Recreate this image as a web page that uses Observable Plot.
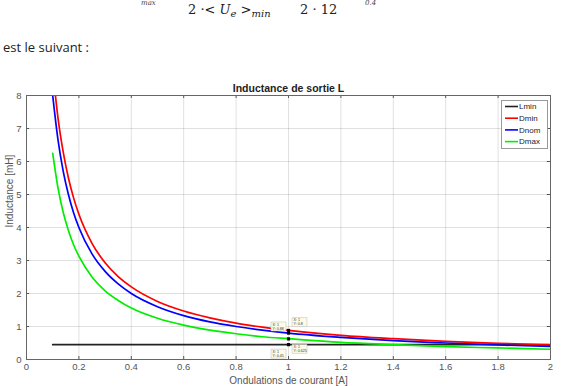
<!DOCTYPE html>
<html><head><meta charset="utf-8">
<script src="https://cdn.jsdelivr.net/npm/d3@7"></script>
<script src="https://cdn.jsdelivr.net/npm/@observablehq/plot@0.6"></script>
<style>
body{margin:0;background:#fff;width:562px;height:386px;overflow:hidden;position:relative;font-family:"Liberation Sans",Arial,sans-serif}
#chart{position:absolute;left:0;top:0}
.math{position:absolute;font-family:"DejaVu Serif",serif;font-size:13px;line-height:1;color:#222;white-space:nowrap}
.math i{font-style:italic}
.math sub{font-size:10px;vertical-align:-3px}
.cut{position:absolute;font-family:"DejaVu Serif",serif;font-style:italic;font-size:7px;line-height:1;color:#444;top:0}
#intro{position:absolute;left:3px;top:38px;font-family:"Open Sans","Liberation Sans",sans-serif;font-size:13px;color:#222}
#legend{position:absolute;left:501px;top:100px;width:45px;height:47px;border:1px solid #999;background:#fff}
</style></head><body>
<div class="cut" style="left:141px">max</div>
<div class="math" style="left:188px;top:3px">2 ·&lt; <i>U</i><sub><i>e</i></sub> &gt;<sub><i>min</i></sub></div>
<div class="math" style="left:300px;top:3px">2 · 12</div>
<div class="cut" style="left:365px">0.4</div>
<div id="intro">est le suivant :</div>
<div id="chart"></div>
<div id="legend"></div>
<script>
// Data
const xs    = [0.1, 0.12, 0.14, 0.16, 0.18, 0.2, 0.25, 0.3, 0.35, 0.4, 0.5, 0.6, 0.7, 0.8, 0.9, 1.0, 1.2, 1.4, 1.6, 1.8, 2.0];
const lDmin = [8.8, 7.33, 6.29, 5.5, 4.89, 4.4, 3.52, 2.93, 2.51, 2.2, 1.76, 1.47, 1.26, 1.1, 0.98, 0.88, 0.73, 0.63, 0.55, 0.49, 0.44];
const lDnom = [8.0, 6.67, 5.71, 5.0, 4.44, 4.0, 3.2, 2.67, 2.29, 2.0, 1.6, 1.33, 1.14, 1.0, 0.89, 0.8, 0.67, 0.57, 0.5, 0.44, 0.4];
const lDmax = [6.25, 5.21, 4.46, 3.91, 3.47, 3.13, 2.5, 2.08, 1.79, 1.56, 1.25, 1.04, 0.89, 0.78, 0.69, 0.63, 0.52, 0.45, 0.39, 0.35, 0.31];
const lminX = [0.1, 2.0];
const lminY = [0.45, 0.45];
const seriesNames  = ["Lmin", "Dmin", "Dnom", "Dmax"];
const seriesColors = ["#222222", "#ff0000", "#0000ff", "#00ee00"];
const xTicks = [0, 0.2, 0.4, 0.6, 0.8, 1, 1.2, 1.4, 1.6, 1.8, 2];
const yTicks = [0, 1, 2, 3, 4, 5, 6, 7, 8];
const tipSeries = ["Dmin", "Dnom", "Dmax", "Lmin"];
const tipX = [1, 1, 1, 1];
const tipY = [0.88, 0.8, 0.625, 0.45];
const tipLabels = ["0.88", "0.8", "0.625", "0.45"];
const titleText = "Inductance de sortie L";
const xLabel = "Ondulations de courant [A]";
const yLabel = "Inductance [mH]";

const rows = [];
lminX.forEach((x, i) => rows.push({series: "Lmin", x, y: lminY[i]}));
xs.forEach((x, i) => rows.push({series: "Dmin", x, y: lDmin[i]}));
xs.forEach((x, i) => rows.push({series: "Dnom", x, y: lDnom[i]}));
xs.forEach((x, i) => rows.push({series: "Dmax", x, y: lDmax[i]}));
const tips = tipX.map((x, i) => ({series: tipSeries[i], x, y: tipY[i], label: `X: 1\nY: ${tipLabels[i]}`}));

const tipOffsets = [[-10, -4], [11, -11], [11, 10], [-10, 9]];
const boxSymbol = {draw(ctx) { ctx.rect(-7.5, -4.5, 15, 9); }};

const gray = "#555";
const plot = Plot.plot({
  width: 562, height: 386,
  marginLeft: 26, marginRight: 12, marginTop: 95, marginBottom: 27,
  x: {domain: [0, 2], label: null},
  y: {domain: [0, 8], label: null},
  color: {domain: seriesNames, range: seriesColors},
  style: {fontFamily: "'Liberation Sans', Arial, sans-serif", fontSize: "9px", color: gray, background: "transparent"},
  marks: [
    Plot.gridX(xTicks, {stroke: "#000", strokeOpacity: 0.12}),
    Plot.gridY(yTicks, {stroke: "#000", strokeOpacity: 0.12}),
    Plot.line(rows, {x: "x", y: "y", z: "series", stroke: "series", strokeWidth: 1.7, curve: "monotone-x", clip: true}),
    ...tips.map((t, i) => Plot.dot([t], {x: "x", y: "y", symbol: boxSymbol, fill: "#fbfbe6", stroke: "#bbb", strokeWidth: 0.5, dx: tipOffsets[i][0], dy: tipOffsets[i][1]})),
    ...tips.map((t, i) => Plot.text([t], {x: "x", y: "y", text: "label", fontSize: 3.6, lineHeight: 1.1, textAnchor: "start", fill: "#333", dx: tipOffsets[i][0] - 6, dy: tipOffsets[i][1]})),
    Plot.dot(tips, {x: "x", y: "y", symbol: "square", r: 1.8, fill: "#000"}),
    Plot.ruleX(xTicks, {y1: 0, y2: 0.09, stroke: gray}),
    Plot.ruleX(xTicks, {y1: 8, y2: 7.91, stroke: gray}),
    Plot.ruleY(yTicks, {x1: 0, x2: 0.012, stroke: gray}),
    Plot.ruleY(yTicks, {x1: 2, x2: 1.988, stroke: gray}),
    Plot.frame({stroke: "#666"}),
    Plot.axisX(xTicks, {tickSize: 0, tickPadding: 4, tickFormat: d => String(d), label: null, fill: gray, fontSize: 9.5}),
    Plot.axisY(yTicks, {tickSize: 0, tickPadding: 5, label: null, fill: gray, fontSize: 9.5}),
    Plot.text([titleText], {frameAnchor: "top", lineAnchor: "middle", dy: -7, fontWeight: "bold", fontSize: 10.5, fill: "#222"}),
    Plot.text([xLabel], {frameAnchor: "bottom", lineAnchor: "middle", dy: 21, fontSize: 10, fill: gray}),
    Plot.text([yLabel], {frameAnchor: "left", dx: -17, rotate: -90, fontSize: 10, fill: gray})
  ]
});
document.getElementById("chart").appendChild(plot);

// Legend (MATLAB-style box, top-right inside axes)
const ns = "http://www.w3.org/2000/svg";
const lsvg = document.createElementNS(ns, "svg");
lsvg.setAttribute("width", 45);
lsvg.setAttribute("height", 47);
seriesNames.forEach((name, i) => {
  const cy = 5.5 + i * 11.7;
  const ln = document.createElementNS(ns, "line");
  ln.setAttribute("x1", 3); ln.setAttribute("x2", 16);
  ln.setAttribute("y1", cy); ln.setAttribute("y2", cy);
  ln.setAttribute("stroke", seriesColors[i]);
  ln.setAttribute("stroke-width", 1.6);
  lsvg.appendChild(ln);
  const tx = document.createElementNS(ns, "text");
  tx.setAttribute("x", 17); tx.setAttribute("y", cy);
  tx.setAttribute("dy", "0.35em");
  tx.setAttribute("font-size", 8);
  tx.setAttribute("font-family", "'Liberation Sans', Arial, sans-serif");
  tx.setAttribute("fill", "#222");
  tx.textContent = name;
  lsvg.appendChild(tx);
});
document.getElementById("legend").appendChild(lsvg);
</script>
</body></html>
